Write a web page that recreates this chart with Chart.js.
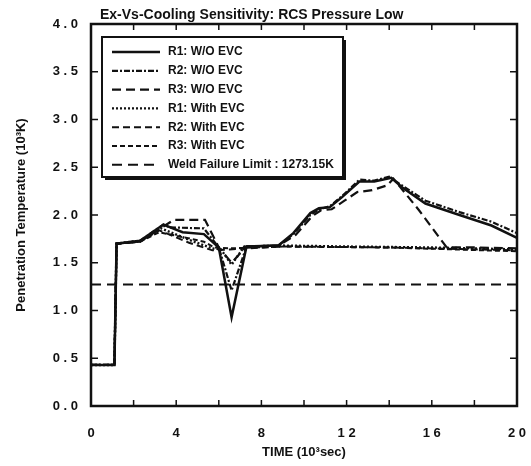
<!DOCTYPE html>
<html>
<head>
<meta charset="utf-8">
<script src="https://cdn.jsdelivr.net/npm/chart.js@4.4.0/dist/chart.umd.min.js"></script>
<style>
  body { margin: 0; background: #fff; }
</style>
</head>
<body>
<canvas id="tempChart" width="531" height="466"></canvas>
<script>
// time in 10^3 sec, temperature in 10^3 K
const tR1wo = [0, 1.1, 1.2, 2.3, 3.4, 4.3, 5.3, 6.0, 6.6, 7.3, 8.8, 9.5, 10.3, 10.7, 11.2, 11.8, 12.6, 13.3, 14.1, 14.6, 15.7, 17.3, 18.8, 20];
const vR1wo = [0.43, 0.43, 1.70, 1.73, 1.90, 1.82, 1.80, 1.66, 0.93, 1.67, 1.68, 1.81, 2.02, 2.07, 2.08, 2.19, 2.35, 2.35, 2.39, 2.29, 2.12, 2.00, 1.89, 1.76];

const tR2wo = [0, 1.1, 1.2, 2.3, 3.4, 3.7, 5.3, 6.0, 6.6, 7.3, 8.8, 9.5, 10.3, 10.7, 11.2, 11.8, 12.6, 13.3, 14.0, 14.6, 15.7, 17.3, 18.8, 20];
const vR2wo = [0.43, 0.43, 1.70, 1.73, 1.90, 1.87, 1.86, 1.66, 1.21, 1.67, 1.68, 1.80, 2.00, 2.06, 2.09, 2.20, 2.37, 2.36, 2.40, 2.31, 2.15, 2.03, 1.93, 1.81];

const tR3wo = [0, 1.1, 1.2, 2.3, 3.4, 3.9, 5.35, 6.0, 6.6, 7.3, 8.8, 9.6, 10.4, 10.8, 11.3, 11.9, 12.5, 13.2, 13.9, 14.2, 15.4, 16.7, 18.0, 20];
const vR3wo = [0.43, 0.43, 1.70, 1.72, 1.88, 1.95, 1.95, 1.66, 1.50, 1.67, 1.68, 1.79, 1.99, 2.05, 2.06, 2.15, 2.24, 2.26, 2.31, 2.38, 2.05, 1.66, 1.66, 1.65];

const tR1w = [0, 1.1, 1.2, 2.3, 3.3, 4.6, 5.7, 6.1, 6.6, 7.2, 9.0, 12.0, 16.0, 20];
const vR1w = [0.43, 0.43, 1.70, 1.73, 1.86, 1.74, 1.65, 1.64, 1.48, 1.67, 1.68, 1.67, 1.66, 1.64];

const tR2w = [0, 1.1, 1.2, 2.3, 3.2, 4.6, 5.7, 6.5, 9.0, 14.0, 20];
const vR2w = [0.43, 0.43, 1.70, 1.72, 1.84, 1.71, 1.63, 1.64, 1.67, 1.66, 1.63];

const tR3w = [0, 1.1, 1.2, 2.3, 3.2, 4.5, 5.3, 5.8, 6.5, 9.0, 14.0, 20];
const vR3w = [0.43, 0.43, 1.70, 1.72, 1.82, 1.76, 1.72, 1.66, 1.65, 1.67, 1.66, 1.62];

const tWeld = [0, 20];
const vWeld = [1.27315, 1.27315];

const seriesLabels = ['R1: W/O EVC', 'R2: W/O EVC', 'R3: W/O EVC', 'R1: With EVC', 'R2: With EVC', 'R3: With EVC', 'Weld Failure Limit : 1273.15K'];
const chartTitle = 'Ex-Vs-Cooling Sensitivity: RCS Pressure Low';

const ink = '#111';
const fontFam = '"Liberation Sans", Arial, sans-serif';

function pts(ts, vs) {
    return ts.map((t, i) => ({x: t, y: vs[i]}));
}

function spaced(str) {
    return str.split('').join(' ');
}

const series = [
    {t: tR1wo, v: vR1wo, dash: [], width: 2.5},
    {t: tR2wo, v: vR2wo, dash: [6, 2, 2, 2], width: 2.2},
    {t: tR3wo, v: vR3wo, dash: [9, 5], width: 2.2},
    {t: tR1w, v: vR1w, dash: [2, 2], width: 2.4},
    {t: tR2w, v: vR2w, dash: [7, 4], width: 2},
    {t: tR3w, v: vR3w, dash: [5, 3], width: 2},
    {t: tWeld, v: vWeld, dash: [10, 6], width: 2}
];

const datasets = series.map((s, i) => ({
    label: seriesLabels[i],
    data: pts(s.t, s.v),
    borderColor: ink,
    borderWidth: s.width,
    borderDash: s.dash,
    pointRadius: 0,
    tension: 0,
    fill: false
}));

// box round the plot with inward ticks, plus the title
const framePlugin = {
    id: 'framePlugin',
    afterDraw(chart) {
        const {ctx, chartArea: a, scales: {x, y}} = chart;
        ctx.save();
        ctx.strokeStyle = ink;
        ctx.setLineDash([]);
        ctx.lineWidth = 2.5;
        ctx.strokeRect(a.left, a.top, a.right - a.left, a.bottom - a.top);
        ctx.lineWidth = 1.5;
        ctx.beginPath();
        x.ticks.forEach(t => {
            const px = x.getPixelForValue(t.value);
            ctx.moveTo(px, a.bottom);
            ctx.lineTo(px, a.bottom - 6);
            ctx.moveTo(px, a.top);
            ctx.lineTo(px, a.top + 6);
        });
        y.ticks.forEach(t => {
            const py = y.getPixelForValue(t.value);
            ctx.moveTo(a.left, py);
            ctx.lineTo(a.left + 7, py);
            ctx.moveTo(a.right, py);
            ctx.lineTo(a.right - 7, py);
        });
        ctx.stroke();

        ctx.fillStyle = ink;
        ctx.font = 'bold 14px ' + fontFam;
        ctx.textAlign = 'left';
        ctx.textBaseline = 'middle';
        ctx.fillText(chartTitle, a.left + 9, 15);
        ctx.restore();
    }
};

// legend box inside the plot, top left
const legendPlugin = {
    id: 'legendPlugin',
    afterDraw(chart) {
        const {ctx, chartArea: a} = chart;
        const bx = a.left + 11, by = a.top + 13, bw = 241, bh = 140;
        ctx.save();
        ctx.fillStyle = '#fff';
        ctx.fillRect(bx, by, bw, bh);
        ctx.strokeStyle = ink;
        ctx.setLineDash([]);
        ctx.lineWidth = 2;
        ctx.strokeRect(bx, by, bw, bh);
        ctx.fillStyle = ink;
        ctx.fillRect(bx + 3, by + bh, bw, 3);
        ctx.fillRect(bx + bw, by + 3, 3, bh);

        ctx.font = 'bold 12px ' + fontFam;
        ctx.textAlign = 'left';
        ctx.textBaseline = 'middle';
        chart.data.datasets.forEach((ds, i) => {
            const ry = by + 15 + i * 18.8;
            ctx.lineWidth = ds.borderWidth;
            ctx.setLineDash(ds.borderDash);
            ctx.beginPath();
            ctx.moveTo(bx + 10, ry);
            ctx.lineTo(bx + 58, ry);
            ctx.stroke();
            ctx.setLineDash([]);
            ctx.fillText(ds.label, bx + 66, ry);
        });
        ctx.restore();
    }
};

new Chart(document.getElementById('tempChart'), {
    type: 'line',
    data: {datasets: datasets},
    options: {
        responsive: false,
        devicePixelRatio: 1,
        animation: false,
        layout: {
            padding: {top: 24, right: 14, left: 0, bottom: 0}
        },
        scales: {
            x: {
                type: 'linear',
                min: 0,
                max: 20,
                afterFit: scale => {
                    scale.height = 60;
                    scale.paddingLeft = 0;
                    scale.paddingRight = 0;
                },
                grid: {display: false, drawTicks: false},
                border: {display: false},
                ticks: {
                    stepSize: 2,
                    autoSkip: false,
                    maxRotation: 0,
                    padding: 20,
                    color: ink,
                    font: {family: fontFam, size: 13, weight: 'bold'},
                    callback: v => (v % 4 === 0 ? spaced(String(v)) : '')
                },
                title: {
                    display: true,
                    text: 'TIME (10³sec)',
                    color: ink,
                    font: {family: fontFam, size: 13, weight: 'bold'},
                    padding: {top: 6, bottom: 6}
                }
            },
            y: {
                min: 0,
                max: 4,
                afterFit: scale => {
                    scale.width = 91;
                    scale.paddingTop = 0;
                    scale.paddingBottom = 0;
                },
                grid: {display: false, drawTicks: false},
                border: {display: false},
                ticks: {
                    stepSize: 0.5,
                    padding: 13,
                    color: ink,
                    font: {family: fontFam, size: 13, weight: 'bold'},
                    callback: v => spaced(v.toFixed(1))
                },
                title: {
                    display: true,
                    text: 'Penetration Temperature (10³K)',
                    color: ink,
                    font: {family: fontFam, size: 13, weight: 'bold'},
                    padding: {top: 14, bottom: 0}
                }
            }
        },
        plugins: {
            legend: {display: false},
            tooltip: {enabled: false}
        }
    },
    plugins: [framePlugin, legendPlugin]
});
</script>
</body>
</html>
